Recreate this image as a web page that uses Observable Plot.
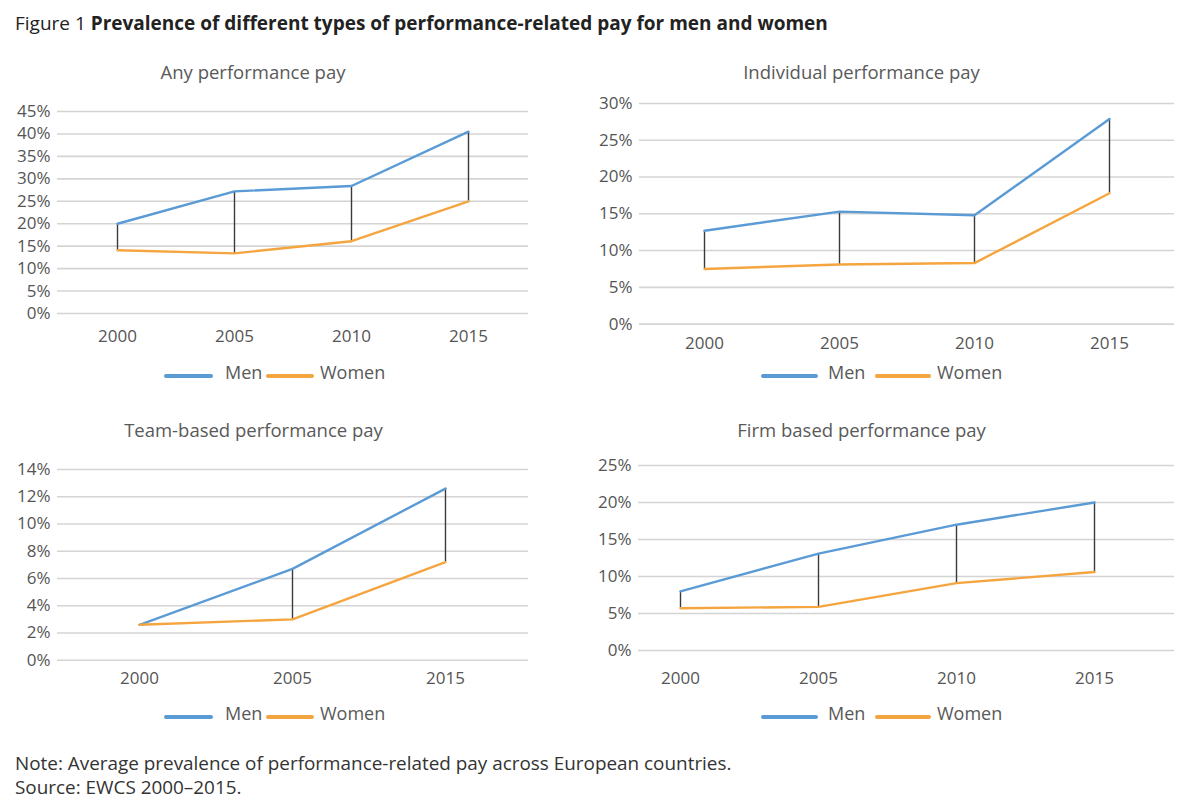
<!DOCTYPE html>
<html>
<head>
<meta charset="utf-8">
<script src="https://cdn.jsdelivr.net/npm/d3@7"></script>
<script src="https://cdn.jsdelivr.net/npm/@observablehq/plot@0.6"></script>
<style>
  html, body { margin: 0; padding: 0; background: #ffffff; }
  #page { position: relative; width: 1200px; height: 804px; overflow: hidden; font-family: "Open Sans", sans-serif; }
  .abs { position: absolute; white-space: nowrap; }
  .ptitle { color: #595959; font-size: 18.5px; }
  .leg { color: #595959; font-size: 18px; }
  .legline { position: absolute; height: 4px; border-radius: 2px; }
  .note { color: #333333; font-size: 18.9px; left: 15px; }
</style>
</head>
<body>
<div id="page"></div>
<script>
// ---------- data ----------
const years = ["2000", "2005", "2010", "2015"];
const teamYears = ["2000", "2005", "2015"];
const seriesNames = ["Men", "Women"];

const anyMen = [20.0, 27.2, 28.4, 40.5];
const anyWomen = [14.1, 13.4, 16.1, 25.0];

const indMen = [12.7, 15.3, 14.8, 27.9];
const indWomen = [7.5, 8.1, 8.3, 17.8];

const teamMen = [2.6, 6.7, 12.6];
const teamWomen = [2.6, 3.0, 7.2];

const firmMen = [8.0, 13.1, 17.0, 20.0];
const firmWomen = [5.7, 5.9, 9.1, 10.6];

const anyTicks = [0, 5, 10, 15, 20, 25, 30, 35, 40, 45];
const indTicks = [0, 5, 10, 15, 20, 25, 30];
const teamTicks = [0, 2, 4, 6, 8, 10, 12, 14];
const firmTicks = [0, 5, 10, 15, 20, 25];

const panelTitles = ["Any performance pay", "Individual performance pay", "Team-based performance pay", "Firm based performance pay"];
const figLabel = "Figure 1";
const figTitle = "Prevalence of different types of performance-related pay for men and women";
const noteText = "Note: Average prevalence of performance-related pay across European countries.";
const sourceText = "Source: EWCS 2000\u20132015.";

const colors = ["#5b9bd5", "#f5a540"];
// ---------- helpers ----------
const page = document.getElementById("page");
function addDiv(cls, text, css) {
  const d = document.createElement("div");
  d.className = cls;
  if (text != null) d.textContent = text;
  Object.assign(d.style, css);
  page.appendChild(d);
  return d;
}

function buildRows(cats, men, women) {
  const rows = [];
  cats.forEach((c, i) => rows.push({year: c, series: "Men", value: men[i]}));
  cats.forEach((c, i) => rows.push({year: c, series: "Women", value: women[i]}));
  return rows;
}
function buildPairs(cats, men, women) {
  return cats.map((c, i) => ({year: c, men: men[i], women: women[i]}));
}

function panel(cfg) {
  const mL = 60, mR = 10, mT = 12, mB = 50;
  const fw = cfg.x1 - cfg.x0, fh = cfg.yZero - cfg.yTop;
  const width = fw + mL + mR, height = fh + mT + mB;
  const fs = 17;
  const chart = Plot.plot({
    width, height,
    marginLeft: mL, marginRight: mR, marginTop: mT, marginBottom: mB,
    style: {fontFamily: '"Open Sans", sans-serif', fontSize: fs + "px", color: "#555555", background: "transparent", overflow: "visible"},
    x: {type: "point", domain: cfg.cats, padding: cfg.padding, align: cfg.align, label: null},
    y: {domain: [0, cfg.ticks[cfg.ticks.length - 1]], label: null},
    color: {domain: seriesNames, range: colors},
    marks: [
      Plot.gridY(cfg.ticks, {stroke: "#d4d4d4", strokeOpacity: 1, strokeWidth: 1.6}),
      Plot.axisY(cfg.ticks, {tickSize: 0, tickPadding: 7, tickFormat: d => d + "%", label: null, fill: "#555555"}),
      Plot.axisX({tickSize: 0, tickPadding: cfg.xOff - 0.36 * fs, label: null, fill: "#555555"}),
      Plot.ruleX(buildPairs(cfg.cats, cfg.men, cfg.women), {x: "year", y1: "men", y2: "women", stroke: "#3a3a3a", strokeWidth: 1.4}),
      Plot.line(buildRows(cfg.cats, cfg.men, cfg.women), {x: "year", y: "value", stroke: "series", z: "series", strokeWidth: 2.4, strokeLinejoin: "round"})
    ]
  });
  chart.style.position = "absolute";
  chart.style.left = (cfg.x0 - mL) + "px";
  chart.style.top = (cfg.yTop - mT) + "px";
  page.appendChild(chart);

  // panel title
  addDiv("abs ptitle", cfg.title, {left: cfg.tx + "px", top: (cfg.ty - 12) + "px", lineHeight: "24px", transform: "translateX(-50%)"});
  // legend
  const L = cfg.leg;
  addDiv("legline", null, {left: L.m0 + "px", width: (L.m1 - L.m0) + "px", top: (L.y - 2) + "px", background: colors[0]});
  addDiv("abs leg", seriesNames[0], {left: L.mt + "px", top: (L.y - 4 - 12) + "px", lineHeight: "24px"});
  addDiv("legline", null, {left: L.w0 + "px", width: (L.w1 - L.w0) + "px", top: (L.y - 2) + "px", background: colors[1]});
  addDiv("abs leg", seriesNames[1], {left: L.wt + "px", top: (L.y - 4 - 12) + "px", lineHeight: "24px"});
}

// ---------- figure title ----------
const title = addDiv("abs", null, {left: "15px", top: "11px", lineHeight: "24px", fontSize: "19px", color: "#222222"});
const s1 = document.createElement("span"); s1.textContent = figLabel + " "; title.appendChild(s1);
const s2 = document.createElement("span"); s2.textContent = figTitle; s2.style.fontWeight = "700"; title.appendChild(s2);

// ---------- panels ----------
panel({cats: years, men: anyMen, women: anyWomen, ticks: anyTicks, title: panelTitles[0],
  x0: 57, x1: 528, yTop: 111, yZero: 313, xOff: 23, padding: 0.5, align: 0.5, tx: 253, ty: 72,
  leg: {m0: 164, m1: 213, mt: 225, w0: 266, w1: 314, wt: 320, y: 375.7}});
panel({cats: years, men: indMen, women: indWomen, ticks: indTicks, title: panelTitles[1],
  x0: 639, x1: 1174, yTop: 102.7, yZero: 323.3, xOff: 18.5, padding: 0.48, align: 0.5, tx: 861.5, ty: 72,
  leg: {m0: 761, m1: 818, mt: 828, w0: 875, w1: 931, wt: 937, y: 375.7}});
panel({cats: teamYears, men: teamMen, women: teamWomen, ticks: teamTicks, title: panelTitles[2],
  x0: 57, x1: 528, yTop: 469.3, yZero: 660, xOff: 18.3, padding: 0.534, align: 0.494, tx: 253.5, ty: 430,
  leg: {m0: 164, m1: 213, mt: 225, w0: 266, w1: 314, wt: 320, y: 717}});
panel({cats: years, men: firmMen, women: firmWomen, ticks: firmTicks, title: panelTitles[3],
  x0: 638, x1: 1174, yTop: 465, yZero: 650, xOff: 27.5, padding: 0.442, align: 0.344, tx: 861.5, ty: 430,
  leg: {m0: 761, m1: 818, mt: 828, w0: 875, w1: 931, wt: 937, y: 717}});

// ---------- note ----------
addDiv("abs note", noteText, {top: (763 - 12) + "px", lineHeight: "24px"});
addDiv("abs note", sourceText, {top: (787 - 12) + "px", lineHeight: "24px"});
</script>
</body>
</html>
